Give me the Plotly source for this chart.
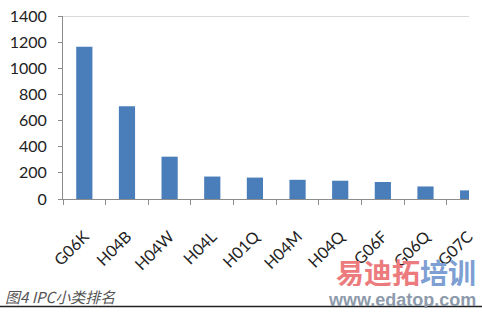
import plotly.graph_objects as go

categories = ["G06K", "H04B", "H04W", "H04L", "H01Q", "H04M", "H04Q", "G06F", "G06Q", "G07C"]
counts = [1166, 710, 324, 172, 164, 147, 140, 130, 96, 66]
y_ticks = [0, 200, 400, 600, 800, 1000, 1200, 1400]

fig = go.Figure(go.Bar(x=categories, y=counts, marker=dict(color="#4a7ebb", line=dict(width=0)), width=0.38))

fig.update_layout(
    width=482, height=312,
    margin=dict(l=63, r=6, t=9, b=113),
    plot_bgcolor="white", paper_bgcolor="white",
    showlegend=False,
    font=dict(family="Lato", color="#222"),
    xaxis=dict(type="category", range=[-0.5, 9.02], tickangle=-45, tickfont=dict(size=16),
               showline=True, linecolor="#8c8c8c", ticks="outside", tickson="boundaries",
               ticklen=5, tickcolor="#8c8c8c", showgrid=False, ticklabelstandoff=21),
    yaxis=dict(range=[0, 1401], tickvals=y_ticks, tickfont=dict(size=16), showgrid=False,
               showline=True, linecolor="#8c8c8c", ticks="outside", ticklen=4, tickcolor="#8c8c8c",
               zeroline=False, ticklabelstandoff=8, ticklabeloverflow="allow"),
)

fig.add_shape(type="line", xref="paper", yref="y", x0=0, x1=1, y0=1400, y1=1400,
              line=dict(color="#d9d9d9", width=1.5))
fig.add_shape(type="line", xref="paper", yref="paper", x0=-0.2, x1=1.1, y0=-0.587, y1=-0.587,
              line=dict(color="#222", width=1.5))

fig.add_annotation(text="<i>图4 IPC小类排名</i>", xref="paper", yref="paper", x=-0.148, y=-0.535,
                   xanchor="left", yanchor="middle", showarrow=False,
                   font=dict(family="Noto Sans CJK SC", size=15, color="#555"))
fig.add_annotation(text="<b><span style='color:#ec7b7e'>易迪拓</span><span style='color:#7e9fd3'>培训</span></b>",
                   xref="paper", yref="paper", x=1.02, y=-0.397, xanchor="right", yanchor="middle",
                   height=28, borderpad=0,
                   showarrow=False, font=dict(family="Noto Sans CJK SC", size=28))
fig.add_annotation(text="<b>www.edatop.com</b>", xref="paper", yref="paper", x=1.02, y=-0.552,
                   xanchor="right", yanchor="middle", showarrow=False, height=16, borderpad=0,
                   font=dict(family="Liberation Sans", size=18, color="#8d9aab"))

fig.write_html("out.html")
